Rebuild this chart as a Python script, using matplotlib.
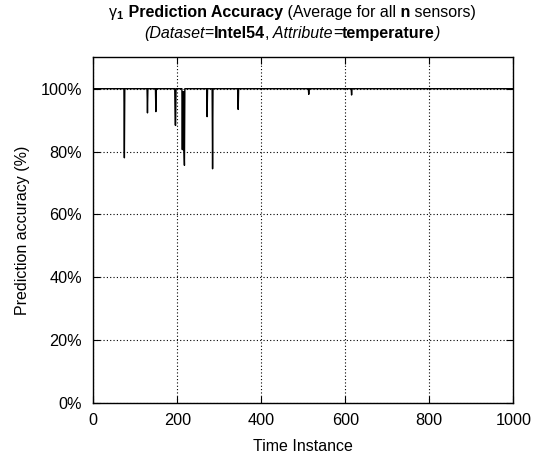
import numpy as np
from matplotlib import pyplot as plt
from matplotlib.offsetbox import TextArea, HPacker, VPacker, AnchoredOffsetbox

plt.rcParams['font.family'] = ['Liberation Sans', 'DejaVu Sans']
plt.rcParams['mathtext.fontset'] = 'custom'
plt.rcParams['mathtext.rm'] = 'Liberation Sans'
plt.rcParams['mathtext.bf'] = 'Liberation Sans:bold'
plt.rcParams['mathtext.it'] = 'Liberation Sans:italic'

# time instances where the accuracy dips below 100%
drop_t = [74, 129, 149, 195, 196, 212, 213, 214, 215, 216, 217, 271, 284, 345, 513, 615]
drop_acc = [78.0, 92.3, 92.7, 88.5, 88.3, 80.6, 99.0, 80.6, 99.0, 80.6, 75.6, 91.1, 74.5, 93.4, 98.2, 98.0]

xticks = [0, 200, 400, 600, 800, 1000]
yticks = [0, 20, 40, 60, 80, 100]
ytick_labels = ['0%', '20%', '40%', '60%', '80%', '100%']

t = np.arange(1, 1001)
acc = np.full(len(t), 100.0)
acc[np.array(drop_t) - 1] = drop_acc

fig = plt.figure(figsize=(5.43, 4.57), dpi=100)
ax = fig.add_axes([0.1718, 0.1188, 0.7735, 0.7558])

ax.plot(t, acc, color='black', lw=1.0)

ax.set_xlim(0, 1000)
ax.set_ylim(0, 110)
ax.set_xticks(xticks)
ax.set_yticks(yticks)
ax.set_yticklabels(ytick_labels)
ax.tick_params(direction='in', top=True, right=True, labelsize=11.7, length=5)
ax.tick_params(axis='x', pad=7.5)
ax.tick_params(axis='y', pad=8)
ax.grid(True, linestyle=(0, (1, 2)), color='black', lw=0.8)
for s in ax.spines.values():
    s.set_linewidth(1.0)

ax.set_xlabel('Time Instance', fontsize=11.5, labelpad=8)
ax.set_ylabel('Prediction accuracy (%)', fontsize=11.5, labelpad=8)

# title made of pieces with mixed styles
fs = 11.5
def piece(s, **kw):
    return TextArea(s, textprops=dict(fontsize=fs, **kw))

line1 = HPacker(children=[piece(r'$\mathrm{\gamma}_\mathbf{1}$'),
                          piece(' Prediction Accuracy', weight='bold'),
                          piece(' (Average for all'),
                          piece(' n', weight='bold'),
                          piece(' sensors)')],
                align='baseline', pad=0, sep=0)
line2 = HPacker(children=[piece('(Dataset', style='italic'),
                          piece('='),
                          piece('Intel54', weight='bold'),
                          piece(','),
                          piece(' Attribute', style='italic'),
                          piece('='),
                          piece('temperature', weight='bold'),
                          piece(')', style='italic')],
                align='baseline', pad=0, sep=0)
title = VPacker(children=[line1, line2], align='center', pad=0, sep=3)
box = AnchoredOffsetbox(loc='upper center', child=title, pad=0, frameon=False,
                        bbox_to_anchor=(0.538, 0.99), bbox_transform=fig.transFigure,
                        borderpad=0)
fig.add_artist(box)

plt.savefig('out.png', dpi=100)
